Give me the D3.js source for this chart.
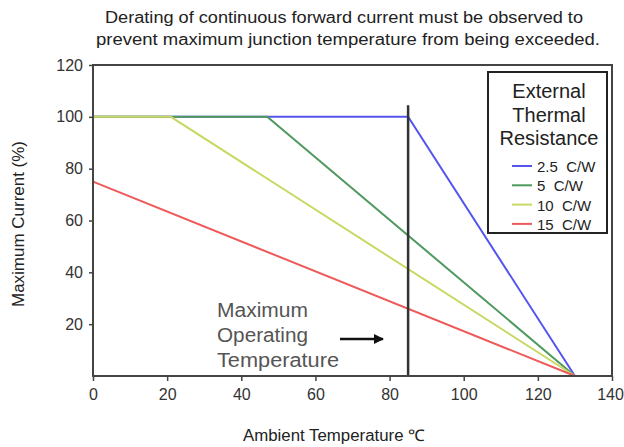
<!DOCTYPE html>
<html>
<head>
<meta charset="utf-8">
<script src="https://cdn.jsdelivr.net/npm/d3@7"></script>
<style>
  body { margin: 0; background: #fff; }
  svg { font-family: "Liberation Sans", Arial, sans-serif; }
</style>
</head>
<body>
<div id="canvas"></div>
<script>
"use strict"

// ---------------- DATA ----------------
let titleLines = [
    "Derating of continuous forward current must be observed to",
    "prevent maximum junction temperature from being exceeded."
]
let xTicks = [0, 20, 40, 60, 80, 100, 120, 140]
let yTicks = [20, 40, 60, 80, 100, 120]
let seriesNames = ["2.5  C/W", "5  C/W", "10  C/W", "15  C/W"]
let seriesColors = ["#5555ee", "#4e9a5e", "#c9d863", "#ee5a5a"]
// [ambient temp, max current %]
let curve25 = [[0, 100], [85, 100], [130, 0]]
let curve5 = [[0, 100], [47, 100], [130, 0]]
let curve10 = [[0, 100], [21, 100], [130, 0]]
let curve15 = [[0, 75], [130, 0]]
let maxOpTemp = 85
let maxOpTop = 104.5
let noteLines = ["Maximum", "Operating", "Temperature"]
let legendTitle = ["External", "Thermal", "Resistance"]

let svgWidth = 624
let svgHeight = 447
let margin = { top: 65, right: 12, bottom: 71, left: 93 }
let width = svgWidth - margin.left - margin.right
let height = svgHeight - margin.top - margin.bottom

let svg = d3.select("#canvas")
    .append("svg")
    .attr("width", svgWidth)
    .attr("height", svgHeight)

let viz = svg.append("g")
    .attr("transform", `translate(${margin.left},${margin.top})`)

let xScale = d3.scaleLinear().domain([0, 140]).range([0, width])
let yScale = d3.scaleLinear().domain([0, 120]).range([height, 0])

// ---------------- TITLE ----------------
svg.append("text")
    .attr("x", 344).attr("y", 23)
    .attr("text-anchor", "middle")
    .attr("font-size", 16)
    .attr("textLength", 478).attr("lengthAdjust", "spacingAndGlyphs")
    .attr("fill", "#222")
    .text(titleLines[0])

svg.append("text")
    .attr("x", 348).attr("y", 45)
    .attr("text-anchor", "middle")
    .attr("font-size", 16)
    .attr("textLength", 504).attr("lengthAdjust", "spacingAndGlyphs")
    .attr("fill", "#222")
    .text(titleLines[1])

// ---------------- LINES ----------------
let line = d3.line()
    .x(function(d) { return xScale(d[0]) })
    .y(function(d) { return yScale(d[1]) })

let curves = [curve25, curve5, curve10, curve15]

// blue first so the other lines sit on top along 100%
curves.forEach(function(c, i) {
    viz.append("path")
        .datum(c)
        .attr("d", line)
        .attr("fill", "none")
        .attr("stroke", seriesColors[i])
        .attr("stroke-width", 2)
})

// max operating temperature marker
viz.append("line")
    .attr("x1", xScale(maxOpTemp)).attr("x2", xScale(maxOpTemp))
    .attr("y1", yScale(maxOpTop)).attr("y2", yScale(0))
    .attr("stroke", "#333")
    .attr("stroke-width", 2.5)

// ---------------- AXES / FRAME ----------------
viz.append("rect")
    .attr("width", width).attr("height", height)
    .attr("fill", "none")
    .attr("stroke", "#444")
    .attr("stroke-width", 2)

let xAxis = d3.axisBottom(xScale).tickValues(xTicks).tickSize(5).tickPadding(8)
let yAxis = d3.axisLeft(yScale).tickValues(yTicks).tickSize(4).tickPadding(6)

let gx = viz.append("g")
    .attr("transform", `translate(0, ${height})`)
    .call(xAxis)
let gy = viz.append("g").call(yAxis)

;[gx, gy].forEach(function(g) {
    g.select(".domain").remove()
    g.selectAll(".tick line").attr("stroke", "#444").attr("stroke-width", 1.5)
    g.selectAll(".tick text")
        .attr("font-size", 16)
        .attr("fill", "#333")
        .attr("font-family", "Liberation Sans, Arial, sans-serif")
})
gx.selectAll(".tick text").filter(function(d) { return d === 140 }).attr("dx", -2)

svg.append("text")
    .attr("x", 334).attr("y", 441)
    .attr("text-anchor", "middle")
    .attr("font-size", 16)
    .attr("textLength", 182).attr("lengthAdjust", "spacingAndGlyphs")
    .attr("fill", "#222")
    .text("Ambient Temperature \u2103")

svg.append("text")
    .attr("transform", "rotate(-90)")
    .attr("x", -224).attr("y", 24)
    .attr("text-anchor", "middle")
    .attr("font-size", 16)
    .attr("textLength", 166).attr("lengthAdjust", "spacingAndGlyphs")
    .attr("fill", "#222")
    .text("Maximum Current (%)")

// ---------------- ANNOTATION ----------------
let noteWidths = [91, 91, 122]
noteLines.forEach(function(t, i) {
    viz.append("text")
        .attr("x", 124)
        .attr("y", 252 + i * 25)
        .attr("font-size", 20)
        .attr("textLength", noteWidths[i]).attr("lengthAdjust", "spacingAndGlyphs")
        .attr("fill", "#555")
        .text(t)
})

svg.append("defs").append("marker")
    .attr("id", "arrow")
    .attr("viewBox", "0 0 10 10")
    .attr("refX", 9).attr("refY", 5)
    .attr("markerWidth", 4).attr("markerHeight", 4)
    .attr("orient", "auto")
    .append("path")
    .attr("d", "M0,0 L10,5 L0,10 z")
    .attr("fill", "#111")

viz.append("line")
    .attr("x1", 247).attr("x2", 290)
    .attr("y1", 274).attr("y2", 274)
    .attr("stroke", "#111")
    .attr("stroke-width", 2.5)
    .attr("marker-end", "url(#arrow)")

// ---------------- LEGEND ----------------
let legend = svg.append("g")
    .attr("transform", "translate(488,72)")

legend.append("rect")
    .attr("width", 119).attr("height", 161)
    .attr("fill", "#fff")
    .attr("stroke", "#222")
    .attr("stroke-width", 2)

legendTitle.forEach(function(t, i) {
    legend.append("text")
        .attr("x", 61).attr("y", 26 + i * 23.5)
        .attr("text-anchor", "middle")
        .attr("font-size", 20)
        .attr("fill", "#222")
        .text(t)
})

seriesNames.forEach(function(name, i) {
    let y = 94 + i * 19.3
    legend.append("line")
        .attr("x1", 24).attr("x2", 44)
        .attr("y1", y).attr("y2", y)
        .attr("stroke", seriesColors[i])
        .attr("stroke-width", 2)
    legend.append("text")
        .attr("x", 49).attr("y", y + 6)
        .attr("font-size", 15)
        .attr("fill", "#222")
        .style("white-space", "pre")
        .text(name)
})
</script>
</body>
</html>
